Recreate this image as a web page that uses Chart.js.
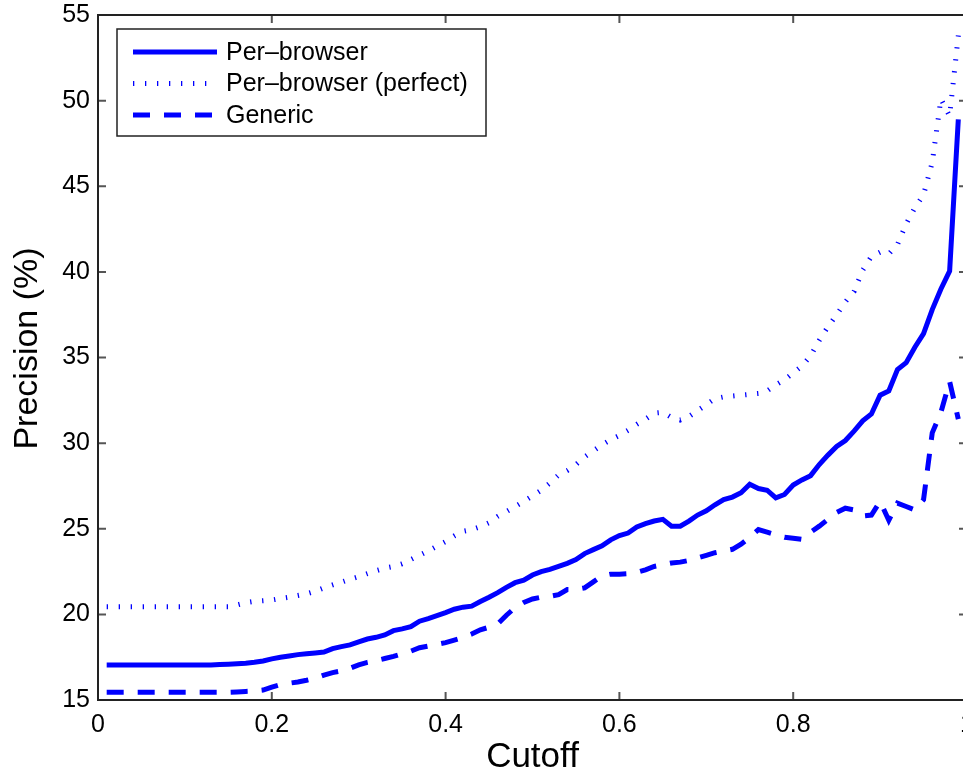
<!DOCTYPE html>
<html>
<head>
<meta charset="utf-8">
<script src="https://cdn.jsdelivr.net/npm/chart.js@4/dist/chart.umd.min.js"></script>
<style>
  html, body { margin: 0; padding: 0; background: #fff; overflow: hidden; }
  #wrap { width: 963px; height: 778px; overflow: hidden; }
</style>
</head>
<body>
<div id="wrap"><canvas id="grafico" width="990" height="778"></canvas></div>
<script>
const cutoffs = [
  0.01, 0.02, 0.03, 0.04, 0.05, 0.06, 0.07, 0.08, 0.09, 0.10,
  0.11, 0.12, 0.13, 0.14, 0.15, 0.16, 0.17, 0.18, 0.19, 0.20,
  0.21, 0.22, 0.23, 0.24, 0.25, 0.26, 0.27, 0.28, 0.29, 0.30,
  0.31, 0.32, 0.33, 0.34, 0.35, 0.36, 0.37, 0.38, 0.39, 0.40,
  0.41, 0.42, 0.43, 0.44, 0.45, 0.46, 0.47, 0.48, 0.49, 0.50,
  0.51, 0.52, 0.53, 0.54, 0.55, 0.56, 0.57, 0.58, 0.59, 0.60,
  0.61, 0.62, 0.63, 0.64, 0.65, 0.66, 0.67, 0.68, 0.69, 0.70,
  0.71, 0.72, 0.73, 0.74, 0.75, 0.76, 0.77, 0.78, 0.79, 0.80,
  0.81, 0.82, 0.83, 0.84, 0.85, 0.86, 0.87, 0.88, 0.89, 0.90,
  0.91, 0.92, 0.93, 0.94, 0.95, 0.96, 0.97, 0.98, 0.99
];

const perBrowser = [
  17.05, 17.05, 17.04, 17.04, 17.04, 17.04, 17.04, 17.04, 17.04, 17.05,
  17.05, 17.04, 17.05, 17.07, 17.09, 17.12, 17.15, 17.20, 17.28, 17.40,
  17.50, 17.57, 17.65, 17.70, 17.75, 17.80, 18.00, 18.12, 18.22, 18.40,
  18.56, 18.66, 18.80, 19.05, 19.15, 19.28, 19.60, 19.75, 19.92, 20.10,
  20.30, 20.42, 20.48, 20.75, 21.00, 21.27, 21.58, 21.85, 22.00, 22.30,
  22.50, 22.63, 22.80, 22.98, 23.20, 23.55, 23.78, 24.00, 24.35, 24.60,
  24.75, 25.10, 25.30, 25.45, 25.55, 25.15, 25.15, 25.45, 25.80, 26.05,
  26.40, 26.70, 26.85, 27.10, 27.60, 27.35, 27.25, 26.80, 27.00, 27.55,
  27.85, 28.10, 28.75, 29.30, 29.80, 30.15, 30.70, 31.30, 31.70, 32.80,
  33.05, 34.30, 34.70, 35.60, 36.40, 37.80, 39.00, 40.05, 48.90
];

const perBrowserPerfect = [
  20.45, 20.45, 20.45, 20.45, 20.45, 20.45, 20.45, 20.45, 20.45, 20.45,
  20.45, 20.45, 20.45, 20.45, 20.45, 20.55, 20.68, 20.76, 20.80, 20.84,
  20.92, 21.00, 21.10, 21.20, 21.35, 21.55, 21.72, 21.88, 22.05, 22.20,
  22.38, 22.55, 22.70, 22.80, 22.95, 23.20, 23.45, 23.70, 23.98, 24.25,
  24.58, 24.85, 24.95, 25.12, 25.35, 25.72, 26.00, 26.30, 26.60, 26.92,
  27.25, 27.67, 28.14, 28.40, 28.75, 29.20, 29.55, 29.90, 30.20, 30.45,
  30.75, 31.10, 31.40, 31.75, 31.80, 31.50, 31.35, 31.55, 31.90, 32.25,
  32.60, 32.70, 32.75, 32.80, 32.85, 32.90, 33.05, 33.40, 33.70, 34.10,
  34.50, 35.10, 36.00, 36.80, 37.50, 38.25, 38.85, 40.10, 40.90, 41.15,
  41.05, 41.60, 42.80, 43.75, 44.50, 46.40, 50.10, 49.10, 53.80
];

const generic = [
  15.45, 15.45, 15.45, 15.45, 15.45, 15.45, 15.45, 15.45, 15.45, 15.45,
  15.45, 15.45, 15.45, 15.45, 15.45, 15.47, 15.50, 15.52, 15.58, 15.75,
  15.90, 15.98, 16.05, 16.15, 16.27, 16.45, 16.60, 16.70, 16.85, 17.05,
  17.20, 17.30, 17.42, 17.55, 17.70, 17.85, 18.05, 18.15, 18.25, 18.35,
  18.50, 18.65, 18.85, 19.10, 19.25, 19.45, 19.95, 20.40, 20.70, 20.90,
  21.00, 21.05, 21.15, 21.45, 21.45, 21.55, 21.90, 22.25, 22.35, 22.35,
  22.38, 22.45, 22.60, 22.80, 22.90, 23.00, 23.05, 23.15, 23.30, 23.45,
  23.60, 23.70, 23.80, 24.10, 24.50, 24.95, 24.80, 24.65, 24.50, 24.45,
  24.38, 24.80, 25.15, 25.55, 25.95, 26.20, 26.10, 25.75, 25.80, 26.60,
  25.50, 26.50, 26.30, 26.10, 26.70, 30.60, 31.80, 33.60, 31.40
];

const xTicks = [0, 0.2, 0.4, 0.6, 0.8, 1];
const xTickLabels = ['0', '0.2', '0.4', '0.6', '0.8', '1'];
const yTicks = [15, 20, 25, 30, 35, 40, 45, 50, 55];

const fonte = '"Liberation Sans", Arial, Helvetica, sans-serif';
const azul = '#0000ff';

function pontos(valores) {
  return cutoffs.map((c, i) => ({ x: c, y: valores[i] }));
}

// caixa dos eixos com ticks para dentro (estilo matlab)
const caixaEixos = {
  id: 'caixaEixos',
  afterDatasetsDraw(chart) {
    const { ctx, chartArea } = chart;
    const sx = chart.scales.x;
    const sy = chart.scales.y;
    const tam = 8;
    ctx.save();
    ctx.strokeStyle = '#555';
    ctx.lineWidth = 2;
    ctx.beginPath();
    xTicks.forEach((v) => {
      const px = sx.getPixelForValue(v);
      ctx.moveTo(px, chartArea.bottom); ctx.lineTo(px, chartArea.bottom - tam);
      ctx.moveTo(px, chartArea.top); ctx.lineTo(px, chartArea.top + tam);
    });
    yTicks.forEach((v) => {
      const py = sy.getPixelForValue(v);
      ctx.moveTo(chartArea.left, py); ctx.lineTo(chartArea.left + tam, py);
      ctx.moveTo(chartArea.right, py); ctx.lineTo(chartArea.right - tam, py);
    });
    ctx.stroke();
    ctx.strokeStyle = '#222';
    ctx.lineWidth = 2;
    ctx.strokeRect(chartArea.left, chartArea.top, chartArea.right - chartArea.left, chartArea.bottom - chartArea.top);

    // rotulos do eixo x centrados no tick (o "1" fica cortado na borda)
    ctx.fillStyle = '#000';
    ctx.font = '25px ' + fonte;
    ctx.textAlign = 'center';
    ctx.textBaseline = 'middle';
    xTicks.forEach((v, i) => {
      ctx.fillText(xTickLabels[i], sx.getPixelForValue(v), chartArea.bottom + 25);
    });

    // titulo do eixo y, um pouco acima do centro como no original
    ctx.translate(28, (chartArea.top + chartArea.bottom) / 2 - 9);
    ctx.rotate(-Math.PI / 2);
    ctx.font = '34px ' + fonte;
    ctx.fillText('Precision (%)', 0, 0);
    ctx.restore();
  }
};

const legendaCaixa = {
  id: 'legendaCaixa',
  afterDraw(chart) {
    const { ctx, chartArea } = chart;
    const x0 = chartArea.left + 19;
    const y0 = chartArea.top + 14;
    ctx.save();
    ctx.fillStyle = '#fff';
    ctx.fillRect(x0, y0, 369, 107);
    ctx.strokeStyle = '#222';
    ctx.lineWidth = 1.5;
    ctx.strokeRect(x0, y0, 369, 107);
    chart.data.datasets.forEach((ds, i) => {
      const y = y0 + 23 + i * 31.5;
      ctx.beginPath();
      ctx.setLineDash(ds.borderDash || []);
      ctx.lineWidth = ds.borderWidth;
      ctx.strokeStyle = ds.borderColor;
      ctx.moveTo(x0 + 16, y);
      ctx.lineTo(x0 + 100, y);
      ctx.stroke();
      ctx.setLineDash([]);
      ctx.fillStyle = '#000';
      ctx.font = '25px ' + fonte;
      ctx.textBaseline = 'middle';
      ctx.fillText(ds.label, x0 + 109, y + 1);
    });
    ctx.restore();
  }
};

let data = {
  datasets: [
    {
      label: 'Per–browser',
      data: pontos(perBrowser),
      borderColor: azul,
      borderWidth: 5,
      pointRadius: 0,
      fill: false
    },
    {
      label: 'Per–browser (perfect)',
      data: pontos(perBrowserPerfect),
      borderColor: azul,
      borderWidth: 5,
      borderDash: [1.3, 10.7],
      pointRadius: 0,
      fill: false
    },
    {
      label: 'Generic',
      data: pontos(generic),
      borderColor: azul,
      borderWidth: 5,
      borderDash: [17, 14],
      pointRadius: 0,
      fill: false
    }
  ]
};

let options = {
  responsive: false,
  animation: false,
  layout: {
    autoPadding: false,
    padding: { top: 15, right: 23, bottom: 0, left: 0 }
  },
  plugins: {
    legend: { display: false },
    tooltip: { enabled: false }
  },
  scales: {
    x: {
      type: 'linear',
      min: 0,
      max: 1,
      afterFit(scale) {
        scale.height = 78;
        scale.paddingLeft = 0;
        scale.paddingRight = 0;
      },
      afterBuildTicks(scale) { scale.ticks = xTicks.map((v) => ({ value: v })); },
      grid: { display: false, drawTicks: false },
      border: { display: false },
      ticks: { display: false },
      title: {
        display: true,
        text: 'Cutoff',
        color: '#000',
        padding: { top: 0, bottom: 0 },
        font: { family: fonte, size: 35 }
      }
    },
    y: {
      type: 'linear',
      min: 15,
      max: 55,
      afterFit(scale) {
        scale.width = 98;
        scale.paddingTop = 0;
        scale.paddingBottom = 0;
      },
      afterBuildTicks(scale) { scale.ticks = yTicks.map((v) => ({ value: v })); },
      grid: { display: false, drawTicks: false },
      border: { display: false },
      ticks: {
        color: '#000',
        padding: 8,
        font: { family: fonte, size: 25 }
      },
      title: { display: false }
    }
  }
};

new Chart(document.getElementById('grafico'), {
  type: 'line',
  data: data,
  options: options,
  plugins: [caixaEixos, legendaCaixa]
});
</script>
</body>
</html>
